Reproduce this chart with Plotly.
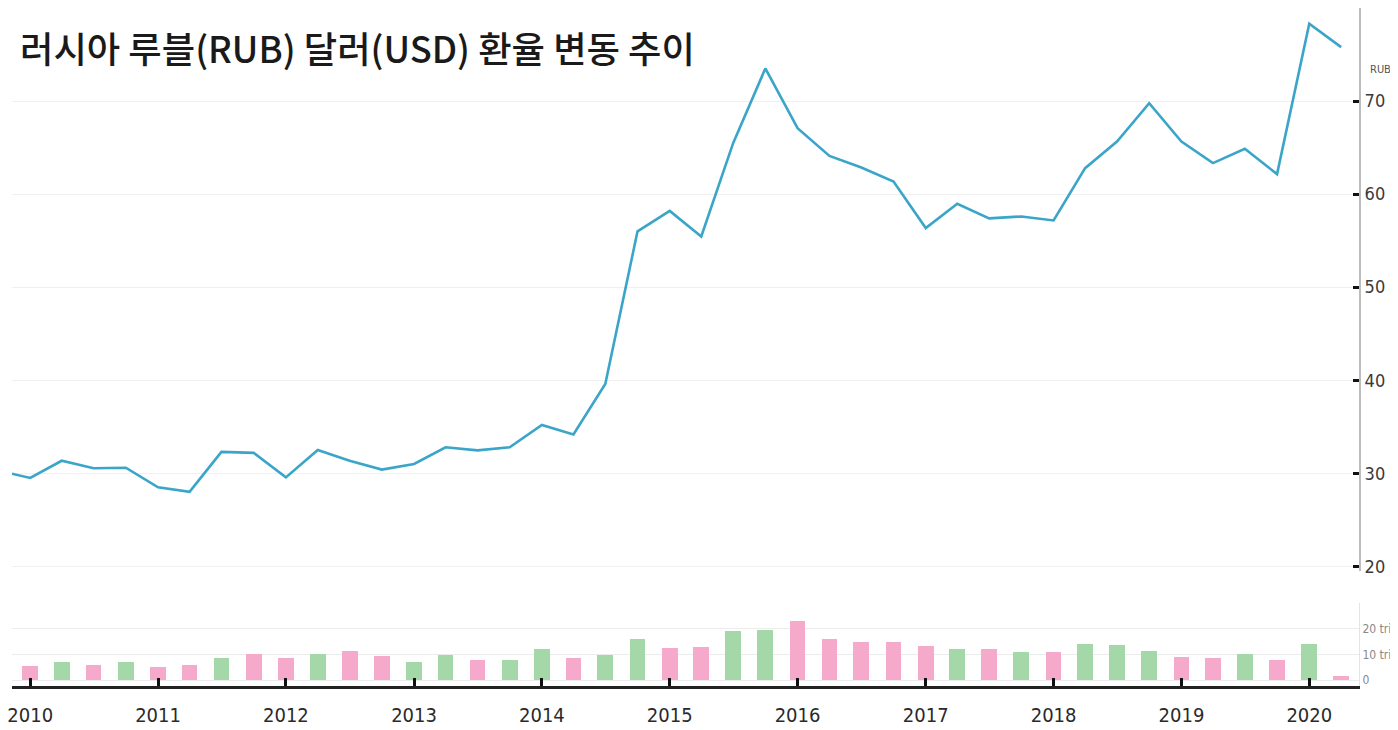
import plotly.graph_objects as go

# ---- data ----
line_quarters = [
    "2009-10-01",
    "2010-01-01", "2010-04-01", "2010-07-01", "2010-10-01",
    "2011-01-01", "2011-04-01", "2011-07-01", "2011-10-01",
    "2012-01-01", "2012-04-01", "2012-07-01", "2012-10-01",
    "2013-01-01", "2013-04-01", "2013-07-01", "2013-10-01",
    "2014-01-01", "2014-04-01", "2014-07-01", "2014-10-01",
    "2015-01-01", "2015-04-01", "2015-07-01", "2015-10-01",
    "2016-01-01", "2016-04-01", "2016-07-01", "2016-10-01",
    "2017-01-01", "2017-04-01", "2017-07-01", "2017-10-01",
    "2018-01-01", "2018-04-01", "2018-07-01", "2018-10-01",
    "2019-01-01", "2019-04-01", "2019-07-01", "2019-10-01",
    "2020-01-01", "2020-04-01",
]
rub_per_usd = [
    30.3,
    29.5, 31.35, 30.55, 30.6,
    28.5, 28.0, 32.3, 32.2,
    29.56, 32.5, 31.35, 30.4,
    31.0, 32.8, 32.46, 32.8,
    35.19, 34.18, 39.6, 56.0,
    58.2, 55.45, 65.48, 73.5,
    67.09, 64.1, 62.86, 61.35,
    56.35, 58.96, 57.4, 57.6,
    57.17, 62.79, 65.65, 69.77,
    65.65, 63.33, 64.87, 62.15,
    78.3, 75.8,
]

volume_quarters = line_quarters[1:]
volume_tri = [
    5.2, 6.9, 5.5, 6.9,
    5.0, 5.5, 8.5, 10.0,
    8.6, 10.0, 11.1, 9.2,
    6.8, 9.8, 7.8, 7.6,
    11.8, 8.5, 9.7, 15.7,
    12.4, 12.9, 19.1, 19.6,
    23.0, 15.7, 14.6, 14.7,
    13.1, 11.8, 11.8, 10.7,
    10.7, 14.0, 13.6, 11.0,
    8.8, 8.5, 9.9, 7.6,
    14.0, 1.3,
]
volume_dir = [
    "d", "u", "d", "u",
    "d", "d", "u", "d",
    "d", "u", "d", "d",
    "u", "u", "d", "u",
    "u", "d", "u", "u",
    "d", "d", "u", "u",
    "d", "d", "d", "d",
    "d", "u", "d", "u",
    "d", "u", "u", "u",
    "d", "d", "u", "d",
    "u", "d",
]

year_ticks = ["2010-01-01", "2011-01-01", "2012-01-01", "2013-01-01", "2014-01-01",
              "2015-01-01", "2016-01-01", "2017-01-01", "2018-01-01", "2019-01-01",
              "2020-01-01"]
year_labels = ["2010", "2011", "2012", "2013", "2014", "2015", "2016", "2017",
               "2018", "2019", "2020"]
price_ticks = [20, 30, 40, 50, 60, 70, 80]
price_labels = ["20", "30", "40", "50", "60", "70", ""]
vol_ticks = [0, 10, 20, 30]
vol_labels = ["0", "10 tri", "20 tri", ""]

title_text = "러시아 루블(RUB) 달러(USD) 환율 변동 추이"

PINK = "#F5AACB"
GREEN = "#A4D8A8"
LINE = "#3AA5C9"
bar_colors = [GREEN if d == "u" else PINK for d in volume_dir]

fig = go.Figure()
fig.add_trace(go.Bar(
    x=volume_quarters, y=volume_tri, xaxis="x", yaxis="y2",
    marker=dict(color=bar_colors, line=dict(width=0)),
    width=45 * 86400000, showlegend=False, hoverinfo="skip",
))
fig.add_trace(go.Scatter(
    x=line_quarters, y=rub_per_usd, xaxis="x", yaxis="y",
    mode="lines", line=dict(color=LINE, width=2.6),
    showlegend=False, cliponaxis=True,
))

narrow = "DejaVu Sans Condensed, Liberation Sans Narrow, Arial Narrow, sans-serif"

# the page body adds an 8px offset, so the figure is 8px smaller on each axis
fig.update_layout(
    width=1390, height=722,
    margin=dict(l=4, r=39, t=0, b=44, autoexpand=False),
    paper_bgcolor="white", plot_bgcolor="white",
    xaxis=dict(
        type="date", anchor="y2", domain=[0, 1], automargin=False,
        range=["2009-11-10", "2020-05-22"],
        tickvals=year_ticks, ticktext=year_labels,
        ticks="inside", ticklen=8, tickwidth=3, tickcolor="#111",
        showline=True, linecolor="#222", linewidth=3,
        showgrid=False, zeroline=False,
        ticklabeloverflow="allow", ticklabelstandoff=9,
        tickfont=dict(family=narrow, size=20, color="#2a2a2a"),
    ),
    yaxis=dict(
        domain=[0.1696, 1], anchor="x", side="right", automargin=False,
        range=[19.5, 80],
        tickvals=price_ticks, ticktext=price_labels,
        ticks="inside", ticklen=6, tickwidth=3, tickcolor="#111",
        showline=True, linecolor="#bdbdbd", linewidth=2,
        showgrid=True, gridcolor="#f0f0f0", gridwidth=1,
        zeroline=False, ticklabeloverflow="allow",
        tickfont=dict(family=narrow, size=18, color="#3a3a3a"),
    ),
    yaxis2=dict(
        domain=[0, 0.1217], anchor="x", side="right", automargin=False,
        range=[-2.35, 30],
        tickvals=vol_ticks, ticktext=vol_labels,
        ticks="", showline=True, linecolor="#e4e4e4", linewidth=1,
        showgrid=True, gridcolor="#ececec", gridwidth=1,
        zeroline=False, ticklabeloverflow="allow",
        tickfont=dict(family=narrow, size=12, color="#888"),
    ),
    bargap=0,
    annotations=[
        dict(text=title_text, xref="paper", yref="paper",
             x=0.0045, y=1 - 39 / 678, xanchor="left", yanchor="middle",
             showarrow=False,
             font=dict(family="Noto Sans CJK KR", size=36.3, color="#1a1a1a", weight=500)),
        dict(text="RUB", xref="paper", yref="paper",
             x=1.0066, y=1 - 62 / 678, xanchor="left", yanchor="middle",
             showarrow=False,
             font=dict(family=narrow, size=11, color="#555")),
    ],
)

fig.write_html("out.html")
